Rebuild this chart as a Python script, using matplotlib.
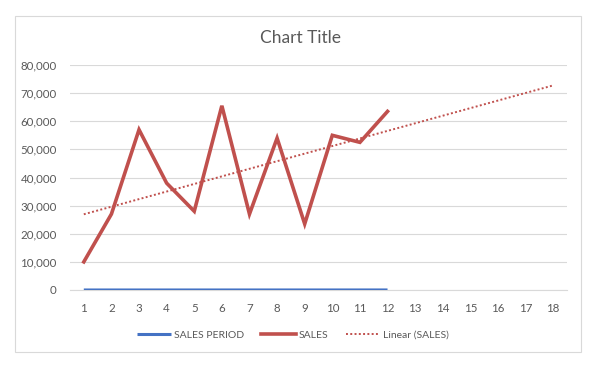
import numpy as np
import matplotlib
matplotlib.use("Agg")
import matplotlib.pyplot as plt
from matplotlib.patches import Rectangle

plt.rcParams['font.family'] = ['Lato', 'DejaVu Sans']

# data
periods = [1, 2, 3, 4, 5, 6, 7, 8, 9, 10, 11, 12]
sales_period = [1, 2, 3, 4, 5, 6, 7, 8, 9, 10, 11, 12]
sales = [10000, 27000, 57000, 38000, 28000, 65500, 27000, 54000, 23500, 55000, 52500, 63500]
categories = list(range(1, 19))
y_ticks = [0, 10000, 20000, 30000, 40000, 50000, 60000, 70000, 80000]

grey = '#595959'
grid = '#D9D9D9'

fig = plt.figure(figsize=(6, 3.73), dpi=100)
ax = fig.add_axes([70/600, 83/373, 497/600, 225/373])

# chart area border
fig.patches.append(Rectangle((15/600, 21/373), 566/600, 336/373, transform=fig.transFigure,
                             fill=False, edgecolor=grid, linewidth=0.8))

ax.plot(periods, sales_period, color='#4472C4', linewidth=2.2, label='SALES PERIOD',
        solid_capstyle='butt', zorder=3)
ax.plot(periods, sales, color='#C0504D', linewidth=2.6, label='SALES',
        solid_joinstyle='miter', zorder=3)

# linear trendline, forecast forward to the last category
slope, intercept = np.polyfit(periods, sales, 1)
tx = np.array([categories[0], categories[-1]])
ax.plot(tx, slope * tx + intercept, color='#C0504D', linewidth=1.4, linestyle=(0, (1, 1.2)),
        label='Linear (SALES)', zorder=2)

ax.set_xlim(0.5, 18.5)
ax.set_ylim(0, 80000)
ax.set_xticks(categories)
ax.set_xticklabels([str(c) for c in categories])
ax.set_yticks(y_ticks)
ax.set_yticklabels([f'{v:,}' for v in y_ticks])
ax.yaxis.grid(True, color=grid, linewidth=0.8)
ax.set_axisbelow(True)
for s in ['top', 'right', 'left']:
    ax.spines[s].set_visible(False)
ax.spines['bottom'].set_color(grid)
ax.spines['bottom'].set_linewidth(0.8)
ax.tick_params(axis='both', length=0, colors=grey, labelsize=8.3)
ax.tick_params(axis='x', pad=9)
ax.tick_params(axis='y', pad=9.5)

fig.text(0.5, 335/373, 'Chart Title', ha='center', va='center', fontsize=12.5, color=grey)

ax.legend(loc='center', bbox_to_anchor=(0.448, -0.2), ncol=3, frameon=False,
          fontsize=7.5, labelcolor=grey, handlelength=3.3, handletextpad=0.25,
          columnspacing=1.7)

fig.savefig('out.png', dpi=100, facecolor='white')
